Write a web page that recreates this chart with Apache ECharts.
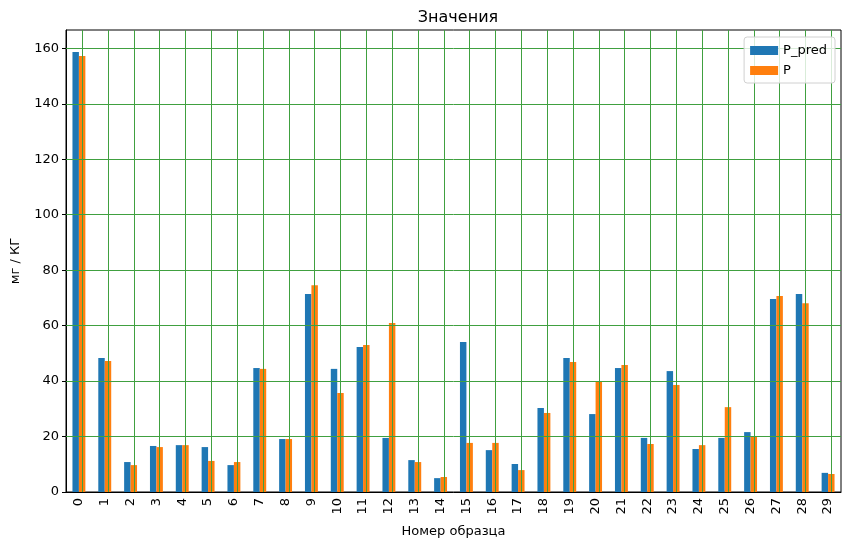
<!DOCTYPE html>
<html>
<head>
<meta charset="utf-8">
<title>Значения</title>
<script src="https://cdn.jsdelivr.net/npm/echarts@6/dist/echarts.min.js"></script>
<style>
  html, body { margin: 0; padding: 0; background: #fff; }
  #main { width: 850px; height: 549px; }
</style>
</head>
<body>
<div id="main"></div>
<script type="text/javascript">
// номера образцов
var samples = [];
for (var i = 0; i < 30; i++) samples.push(String(i));

// значения
var pPred = [158.7, 48.3, 10.8, 16.6, 16.9, 16.2, 9.7, 44.7, 19.1, 71.4,
             44.4, 52.3, 19.5, 11.5, 5.0, 54.1, 15.1, 10.1, 30.3, 48.3,
             28.1, 44.7, 19.5, 43.6, 15.5, 19.5, 21.6, 69.6, 71.4, 6.9];
var pReal = [157.2, 47.2, 9.7, 16.2, 16.9, 11.2, 10.8, 44.4, 19.1, 74.6,
             35.7, 53.0, 60.9, 10.8, 5.4, 17.7, 17.7, 7.9, 28.5, 46.9,
             40.0, 45.8, 17.3, 38.6, 16.9, 30.6, 20.2, 70.7, 68.1, 6.5];

var yTicks = [0, 20, 40, 60, 80, 100, 120, 140, 160];

var font = 'DejaVu Sans';
var gridColor = '#40a040';

// сетка поверх столбцов, как в matplotlib
var gridLines = [];
samples.forEach(function (s) { gridLines.push({ xAxis: s }); });
yTicks.forEach(function (v) { if (v > 0) gridLines.push({ yAxis: v }); });

var myChart = echarts.init(document.getElementById('main'));
var option = {
  animation: false,
  textStyle: { fontFamily: font },
  title: {
    text: 'Значения',
    left: 453, top: 5, textAlign: 'center',
    textStyle: { fontFamily: font, fontSize: 16, fontWeight: 'normal', color: '#000' }
  },
  legend: {
    data: ['P_pred', 'P'],
    orient: 'vertical',
    right: 15, top: 37,
    itemWidth: 28, itemHeight: 9, itemGap: 7,
    padding: [7, 8, 6, 6],
    borderColor: '#d0d0d0', borderWidth: 1, borderRadius: 3,
    backgroundColor: 'rgba(255,255,255,0.8)',
    icon: 'rect',
    z: 10,
    textStyle: { fontFamily: font, fontSize: 13, color: '#000' }
  },
  grid: {
    left: 66, right: 9, top: 30, bottom: 57,
    show: true, borderColor: '#000', borderWidth: 1
  },
  xAxis: {
    type: 'category',
    data: samples,
    name: 'Номер образца',
    nameLocation: 'middle',
    nameGap: 33,
    nameTextStyle: { fontFamily: font, fontSize: 13, color: '#000' },
    axisLine: { lineStyle: { color: '#000', width: 1 } },
    axisTick: { alignWithLabel: true, length: 4, lineStyle: { color: '#000' } },
    axisLabel: { rotate: 90, fontFamily: font, fontSize: 13, color: '#000', margin: 6, interval: 0 },
    splitLine: { show: false }
  },
  yAxis: {
    type: 'value',
    min: 0, max: 166.6, interval: 20,
    name: 'мг / КГ',
    nameLocation: 'middle',
    nameGap: 44,
    nameTextStyle: { fontFamily: font, fontSize: 13, color: '#000' },
    axisLine: { show: true, lineStyle: { color: '#000', width: 1 } },
    axisTick: { show: true, length: 4, lineStyle: { color: '#000' } },
    axisLabel: {
      fontFamily: font, fontSize: 13, color: '#000', margin: 7,
      showMaxLabel: false,
      formatter: function (v) { return yTicks.indexOf(v) >= 0 ? String(v) : ''; }
    },
    splitLine: { show: false }
  },
  series: [
    { name: 'P_pred', type: 'bar', data: pPred, barWidth: '25%', barGap: '0%',
      itemStyle: { color: '#1f77b4' } },
    { name: 'P', type: 'bar', data: pReal, barWidth: '25%', barGap: '0%',
      itemStyle: { color: '#ff7f0e' },
      markLine: {
        silent: true,
        symbol: 'none',
        z: 5,
        label: { show: false },
        emphasis: { disabled: true },
        lineStyle: { color: gridColor, width: 1, type: 'solid' },
        data: gridLines
      } }
  ]
};
myChart.setOption(option);
</script>
</body>
</html>
